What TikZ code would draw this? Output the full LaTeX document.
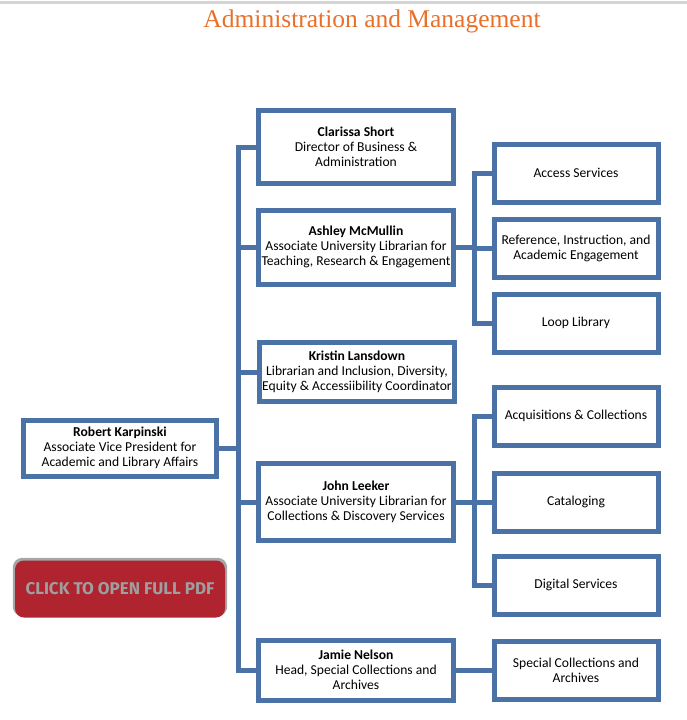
\documentclass[tikz,border=0pt]{standalone}
\usepackage{fontspec}
\setmainfont{Carlito}
\newfontfamily\titlefont{Liberation Serif}
\newfontfamily\buttonfont{Fira Sans}
\usetikzlibrary{shadows}
\definecolor{orgblue}{HTML}{4A72A6}
\definecolor{titleorange}{HTML}{E8702A}
\definecolor{pdfred}{HTML}{B0242F}
\definecolor{rulegray}{HTML}{D4D4D4}

\begin{document}
\begin{tikzpicture}[x=1pt,y=-1pt,
  box/.style={draw=orgblue, line width=5pt, fill=white, align=center, inner sep=2pt, font=\fontsize{13.6}{15}\selectfont},
  midbox/.style={box, minimum width=195pt},
  unitbox/.style={box, minimum width=164pt, minimum height=58pt},
  link/.style={draw=orgblue, line width=5pt, line join=miter},
  pdfbutton/.style={fill=pdfred, rounded corners=9pt, minimum width=210pt, minimum height=57pt, text=gray!75, font=\buttonfont\bfseries\fontsize{17}{20}\selectfont, general shadow={fill=black, opacity=0.35, shadow scale=1.02, shadow yshift=2pt}}]
\useasboundingbox (0,0) rectangle (687,720);
\draw[rulegray, line width=3pt] (0,2) -- (687,2);
\node[text=titleorange, font=\titlefont\fontsize{25.5}{28}\selectfont] (title) at (372,21) {Administration and Management};

\node[box, minimum width=193pt, minimum height=56pt] (rk) at (120,448) {\textbf{Robert Karpinski}\\Associate Vice President for\\Academic and Library Affairs};
\node[midbox, minimum height=73pt] (cs) at (356,147) {\textbf{Clarissa Short}\\Director of Business \&\\Administration};
\node[midbox, minimum height=74pt] (am) at (356,247) {\textbf{Ashley McMullin}\\Associate University Librarian for\\Teaching, Research \& Engagement};
\node[midbox, minimum height=59pt] (kl) at (357,372) {\textbf{Kristin Lansdown}\\Librarian and Inclusion, Diversity,\\Equity \& Accessiibility Coordinator};
\node[midbox, minimum height=77pt] (jl) at (356,502) {\textbf{John Leeker}\\Associate University Librarian for\\Collections \& Discovery Services};
\node[midbox, minimum height=60pt] (jnel) at (356,670) {\textbf{Jamie Nelson}\\Head, Special Collections and\\Archives};

\node[unitbox] (as) at (576,173) {Access Services};
\node[unitbox] (ri) at (576,248) {Reference, Instruction, and\\Academic Engagement};
\node[unitbox] (ll) at (576,323) {Loop Library};
\node[unitbox] (ac) at (576,416) {Acquisitions \& Collections};
\node[unitbox] (ca) at (576,502) {Cataloging};
\node[unitbox] (ds) at (576,585) {Digital Services};
\node[unitbox] (sc) at (576,670) {Special Collections and\\Archives};

\node[pdfbutton] (pdf) at (120,589) {CLICK TO OPEN FULL PDF};

% main trunk
\coordinate (trunk) at (238,0);
\coordinate (fork) at (474,0);
\draw[link] (cs.west) -- (cs.west -| trunk) -- (jnel.west -| trunk) -- (jnel.west);
\draw[link] (rk.east) -- (rk.east -| trunk);
\draw[link] (am.west -| trunk) -- (am.west);
\draw[link] (kl.west -| trunk) -- (kl.west);
\draw[link] (jl.west -| trunk) -- (jl.west);

% units
\draw[link] (as.west) -- (as.west -| fork) -- (ll.west -| fork) -- (ll.west);
\draw[link] (am.east) -- (am.east -| fork);
\draw[link] (ri.west -| fork) -- (ri.west);
\draw[link] (ac.west) -- (ac.west -| fork) -- (ds.west -| fork) -- (ds.west);
\draw[link] (jl.east) -- (jl.east -| fork);
\draw[link] (ca.west -| fork) -- (ca.west);
\draw[link] (jnel.east) -- (sc.west);
\end{tikzpicture}
\end{document}
